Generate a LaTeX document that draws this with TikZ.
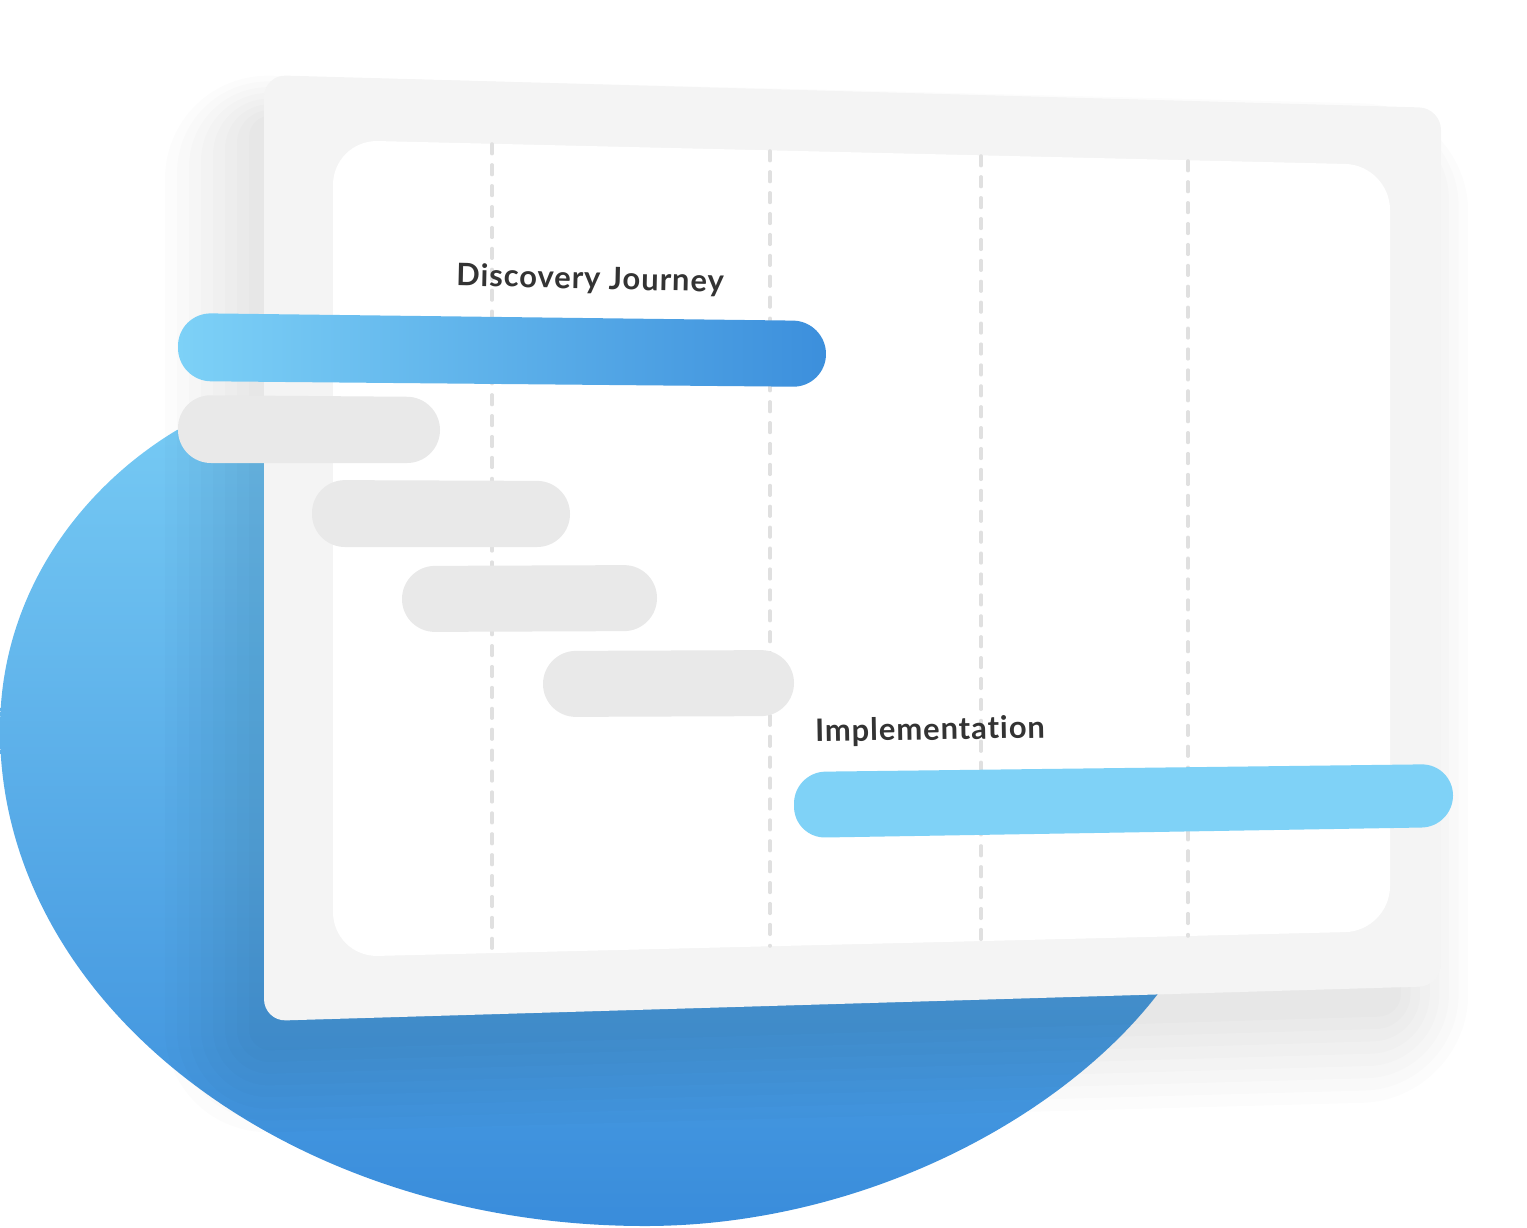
\documentclass[tikz,border=0pt]{standalone}
\usepackage{fontspec}
\setmainfont{Lato}
\definecolor{panelgray}{HTML}{F4F4F4}
\definecolor{bargray}{HTML}{E9E9E9}
\definecolor{dashgray}{HTML}{E0E0E0}
\definecolor{lightblue}{HTML}{7FD2F7}
\definecolor{gradleft}{HTML}{7DD1F7}
\definecolor{gradright}{HTML}{3C8FDC}
\definecolor{blobtop}{HTML}{80D4F8}
\definecolor{blobbot}{HTML}{398CDB}
\definecolor{labeltext}{HTML}{333333}
\tikzset{
  gridline/.style={draw=dashgray, line width=2pt, line cap=round, dash pattern=on 5.5pt off 6.4pt},
  taskbar/.style={fill=bargray, rounded corners=0.66cm},
  caption/.style={font=\bfseries\fontsize{17.6}{21}\selectfont, text=labeltext, inner sep=0pt},
  shadowlayer/.style={fill=black, fill opacity=0.01},
}
\newcommand\panelshape{(264,75) -- (1441,108) -- (1441,986) -- (264,1021) -- cycle}
\begin{document}
\begin{tikzpicture}[x=0.02cm,y=-0.02cm]
\useasboundingbox (0,0) rectangle (1527,1227);
% blue blob
\shade[top color=blobtop, bottom color=blobbot]
  (177,430) .. controls (85,485) and (0,590) .. (0,730)
  .. controls (0,1004) and (289,1226) .. (645,1226)
  .. controls (860,1226) and (1060,1120) .. (1157,995)
  .. controls (1235,895) and (1290,500) .. (900,280)
  .. controls (600,300) and (250,415) .. (177,430) -- cycle;
% soft shadow of the panel
\foreach \e in {0,12,...,84} {
  \fill[shadowlayer, rounded corners={(22+\e)*0.02cm}]
    ({249-\e},{115-0.5*\e}) -- ({1401+0.8*\e},{148-0.5*\e})
    -- ({1401+0.8*\e},{1016+\e}) -- ({249-\e},{1051+\e}) -- cycle;
}
% panel
\fill[panelgray, rounded corners=0.44cm] \panelshape;
\fill[white, rounded corners=0.9cm] (333,140) -- (1390,165) -- (1390,931) -- (333,957) -- cycle;
% dashed grid lines
\draw[gridline] (492,144) -- (492,953);
\draw[gridline] (770,151) -- (770,946);
\draw[gridline] (981,156) -- (981,941);
\draw[gridline] (1188,161) -- (1188,936);
% bars
\shade[left color=gradleft, right color=gradright, rounded corners=0.66cm]
  (178,313) -- (826,321) -- (826,387) -- (178,381) -- cycle;
\fill[taskbar] (178,395) -- (440,397) -- (440,463) -- (178,463) -- cycle;
\fill[taskbar] (312,480) -- (570,481) -- (570,547) -- (312,547) -- cycle;
\fill[taskbar] (402,566) -- (657,565) -- (657,631) -- (402,632) -- cycle;
\fill[taskbar] (543,651) -- (794,650) -- (794,716) -- (543,717) -- cycle;
\fill[lightblue, rounded corners=0.63cm] (794,772) -- (1453,764) -- (1453,827) -- (794,838) -- cycle;
% labels
\node[caption, rotate=-1.3] (discovery) at (590,280) {\addfontfeature{LetterSpace=3,Ligatures=NoCommon}Discovery Journey};
\node[caption, rotate=1] (implementation) at (930,731) {\addfontfeature{LetterSpace=3,Ligatures=NoCommon}Implementation};
\end{tikzpicture}
\end{document}
